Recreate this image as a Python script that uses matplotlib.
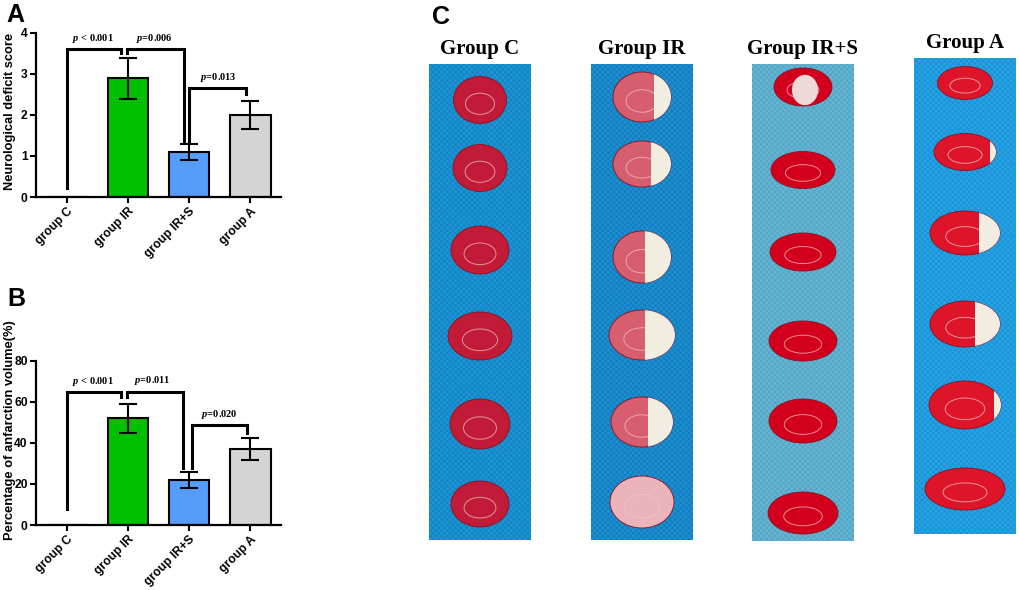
import matplotlib.pyplot as plt
from matplotlib.patches import Rectangle, Ellipse

plt.rcParams['font.family'] = ['Liberation Sans', 'DejaVu Sans']
plt.rcParams['mathtext.fontset'] = 'custom'
plt.rcParams['mathtext.bfit'] = 'Liberation Serif:italic:bold'
plt.rcParams['mathtext.rm'] = 'Liberation Serif:bold'
plt.rcParams['hatch.linewidth'] = 0.4

groups = ['group C', 'group IR', 'group IR+S', 'group A']
bar_colors = ['white', '#00c000', '#569dfb', '#d4d4d4']

deficit_mean = [0.0, 2.9, 1.1, 2.0]
deficit_err = [0.0, 0.5, 0.2, 0.35]

infarct_mean = [0.0, 52.0, 22.0, 37.0]
infarct_err = [0.0, 7.0, 4.0, 5.5]

# significance brackets: x left, x right, left leg bottom, top, right leg bottom
deficit_brackets = [(0.0, 0.89, 0.22, 3.6, 3.5),
                    (0.99, 1.91, 3.5, 3.6, 1.36),
                    (2.0, 2.93, 1.36, 2.67, 2.5)]
deficit_pvals = [(0.43, 3.8, r'$\mathbfit{p}$ < 0.001'),
                 (1.43, 3.8, r'$\mathbfit{p}$=0.006'),
                 (2.47, 2.86, r'$\mathbfit{p}$=0.013')]

infarct_brackets = [(0.0, 0.89, 8.0, 65.0, 62.6),
                    (0.99, 1.9, 62.6, 65.0, 27.6),
                    (2.04, 2.94, 27.6, 48.8, 44.7)]
infarct_pvals = [(0.43, 69.0, r'$\mathbfit{p}$ < 0.001'),
                 (1.40, 69.5, r'$\mathbfit{p}$=0.011'),
                 (2.49, 52.8, r'$\mathbfit{p}$=0.020')]

photo_titles = ['Group C', 'Group IR', 'Group IR+S', 'Group A']


def bar_panel(ax, means, errs, brackets, pvals, ymax, ystep, ylabel, label_y):
    x = list(range(len(groups)))
    ax.bar(x, means, 0.66, color=bar_colors, edgecolor='black', linewidth=1.5, zorder=2)
    ax.errorbar(x[1:], means[1:], yerr=errs[1:], fmt='none', ecolor='black',
                elinewidth=1.5, capsize=6.5, capthick=1.5, zorder=3)
    for x0, x1, yl, yt, yr in brackets:
        ax.plot([x0, x0, x1, x1], [yl, yt, yt, yr], color='black', lw=2.2,
                solid_joinstyle='miter', clip_on=False, zorder=4)
    for px, py, txt in pvals:
        ax.text(px, py, txt, ha='center', va='baseline', fontsize=7.5,
                family='Liberation Serif', fontweight='bold')
    ax.set_xlim(-0.5, 3.5)
    ax.set_ylim(0, ymax)
    ax.set_yticks([i * ystep for i in range(5)])
    ax.set_xticks(x, groups, rotation=45, ha='right', rotation_mode='anchor')
    ax.tick_params(width=1.5, length=4, labelsize=8.7, pad=2)
    for lbl in ax.get_xticklabels() + ax.get_yticklabels():
        lbl.set_fontweight('bold')
    ax.set_ylabel(ylabel, fontsize=9.3, fontweight='bold')
    ax.yaxis.set_label_coords(-0.082, label_y)
    for side in ['top', 'right']:
        ax.spines[side].set_visible(False)
    for side in ['left', 'bottom']:
        ax.spines[side].set_linewidth(1.6)


fig = plt.figure(figsize=(10.2, 5.9), dpi=100)

# panel C: drawn imitation of the stained brain slice photographs (pixel coordinates)
axc = fig.add_axes([0, 0, 1, 1], zorder=0)
axc.set_xlim(0, 1020)
axc.set_ylim(590, 0)
axc.axis('off')

strip_left = [429, 591, 752, 914]
strip_top = [64, 64, 64, 58]
strip_bottom = [540, 540, 541, 534]
strip_color = ['#1b95d6', '#1a8fd2', '#63b5d3', '#24a3e6']
hatch_color = ['#1478b4', '#1272ae', '#4f9cba', '#1a88c6']
slice_color = ['#c21b38', '#d65e6e', '#d3001d', '#de1429']
slice_y = [[100, 168, 250, 336, 424, 504],
           [97, 164, 257, 335, 422, 502],
           [87, 170, 252, 341, 421, 513],
           [83, 152, 233, 324, 405, 489]]
slice_size = [[(53, 47), (54, 47), (58, 48), (64, 48), (60, 50), (58, 46)],
              [(58, 50), (58, 46), (58, 52), (66, 50), (62, 50), (64, 52)],
              [(58, 38), (64, 37), (66, 38), (68, 40), (68, 44), (70, 42)],
              [(55, 33), (62, 37), (70, 44), (70, 46), (72, 48), (80, 42)]]
white_frac = [[0, 0, 0, 0, 0, 0],
              [0.3, 0.35, 0.45, 0.45, 0.4, 0],
              [0, 0, 0, 0, 0, 0],
              [0, 0.1, 0.3, 0.35, 0.1, 0]]

for i in range(4):
    w = 102
    axc.add_patch(Rectangle((strip_left[i], strip_top[i]), w, strip_bottom[i] - strip_top[i],
                            facecolor=strip_color[i], edgecolor=hatch_color[i], hatch='xxxxxx',
                            linewidth=0))
    cx = strip_left[i] + w / 2
    axc.text(cx, strip_top[i] - 10, photo_titles[i], ha='center', va='baseline',
             fontsize=15, family='Liberation Serif', fontweight='bold')
    for j, cy in enumerate(slice_y[i]):
        sw, sh = slice_size[i][j]
        col = slice_color[i]
        if i == 1 and j == 5:
            col = '#eab4ba'
        axc.add_patch(Ellipse((cx, cy), sw, sh, facecolor=col, edgecolor='#8a0f22', linewidth=0.6))
        axc.add_patch(Ellipse((cx, cy + sh * 0.08), sw * 0.55, sh * 0.45, facecolor='none',
                              edgecolor='#f3c8cc', linewidth=0.7, alpha=0.7))
        f = white_frac[i][j]
        if f > 0:
            wh = Ellipse((cx, cy), sw, sh, facecolor='#f1ede0', edgecolor='none')
            axc.add_patch(wh)
            clip = Rectangle((cx + sw * (0.5 - f), cy - sh), sw, 2 * sh, transform=axc.transData)
            wh.set_clip_path(clip)
        if i == 2 and j == 0:
            axc.add_patch(Ellipse((cx + 2, cy + 3), sw * 0.45, sh * 0.8, facecolor='#efd8d8', edgecolor='none'))

fig.text(6 / 1020, 1 - 22 / 590, 'A', fontsize=18, fontweight='bold')
fig.text(7 / 1020, 1 - 306 / 590, 'B', fontsize=18, fontweight='bold')
fig.text(432 / 1020, 1 - 24 / 590, 'C', fontsize=18, fontweight='bold')

axa = fig.add_axes([36 / 1020, 1 - 197 / 590, 245 / 1020, 164 / 590], zorder=1)
bar_panel(axa, deficit_mean, deficit_err, deficit_brackets, deficit_pvals, 4, 1,
          'Neurological deficit score', 0.52)

axb = fig.add_axes([36 / 1020, 1 - 525 / 590, 245 / 1020, 164 / 590], zorder=1)
bar_panel(axb, infarct_mean, infarct_err, infarct_brackets, infarct_pvals, 80, 20,
          'Percentage of anfarction volume(%)', 0.58)

fig.savefig('out.png', dpi=100)
